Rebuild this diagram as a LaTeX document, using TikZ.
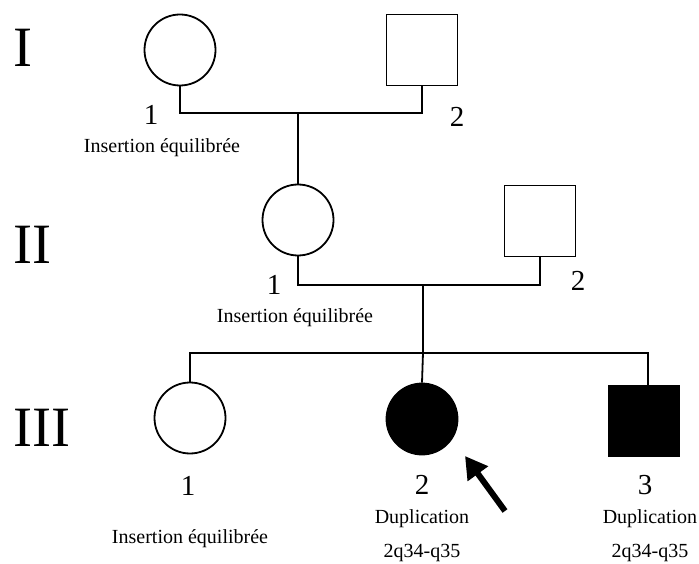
\documentclass[tikz,border=0pt]{standalone}
\usepackage{fontspec}
\setmainfont{Liberation Serif}
\usetikzlibrary{arrows.meta}
\begin{document}
\begin{tikzpicture}[x=1pt,y=-1pt,line width=1.8pt,
  fem/.style={circle,draw,minimum size=71pt,inner sep=0pt},
  mal/.style={rectangle,draw,minimum size=71pt,inner sep=0pt},
  aff/.style={fill=black},
  num/.style={font=\fontsize{29}{29}\selectfont,inner sep=0pt},
  lab/.style={font=\fontsize{20}{20}\selectfont,inner sep=0pt,anchor=base},
  gen/.style={font=\fontsize{57}{57}\selectfont,inner sep=0pt,anchor=base west},
  probarrow/.style={line width=6pt,-{Triangle[length=22pt,width=24pt]}}]
\useasboundingbox (0,0) rectangle (699,564);
% generation labels
\node[gen] (gI) at (13,67) {I};
\node[gen] (gII) at (13,263) {II};
\node[gen] (gIII) at (13,446) {III};
% generation I
\node[fem] (i1) at (180,50) {};
\node[mal] (i2) at (422,50) {};
\coordinate (mI) at (298,113);
\draw (i1.south) |- (mI) -| (i2.south);
\node[num] (n-i1) at (151,115) {1};
\node[num] (n-i2) at (457,117) {2};
\node[lab] (t-i1) at (162,153) {Insertion équilibrée};
% generation II
\node[fem] (ii1) at (298,220) {};
\node[mal] (ii2) at (540,221) {};
\draw (mI) -- (ii1.north);
\coordinate (mII) at (423,285);
\draw (ii1.south) |- (mII) -| (ii2.south);
\node[num] (n-ii1) at (274,285) {1};
\node[num] (n-ii2) at (578,281) {2};
\node[lab] (t-ii1) at (295,322) {Insertion équilibrée};
% sibship
\coordinate (sII) at (423,353);
\draw (mII) -- (sII);
% generation III
\node[fem] (iii1) at (190,418) {};
\node[fem,aff] (iii2) at (422,419) {};
\node[mal,aff] (iii3) at (644,421) {};
\coordinate (d3) at (648,353);
\draw (iii1.north) |- (sII) -- (d3) -- (d3 |- iii3.north);
\draw (sII) -- (iii2.north);
\node[num] (n-iii1) at (188,486) {1};
\node[num] (n-iii2) at (422,485) {2};
\node[num] (n-iii3) at (645,485) {3};
\node[lab] (t-iii1) at (190,543) {Insertion équilibrée};
\node[lab] (t-iii2a) at (422,523) {Duplication};
\node[lab] (t-iii2b) at (422,557) {2q34-q35};
\node[lab] (t-iii3a) at (650,523) {Duplication};
\node[lab] (t-iii3b) at (650,557) {2q34-q35};
% proband arrow
\coordinate (arT) at (505,511);
\coordinate (arH) at (465,456);
\draw[probarrow] (arT) -- (arH);
\end{tikzpicture}
\end{document}
